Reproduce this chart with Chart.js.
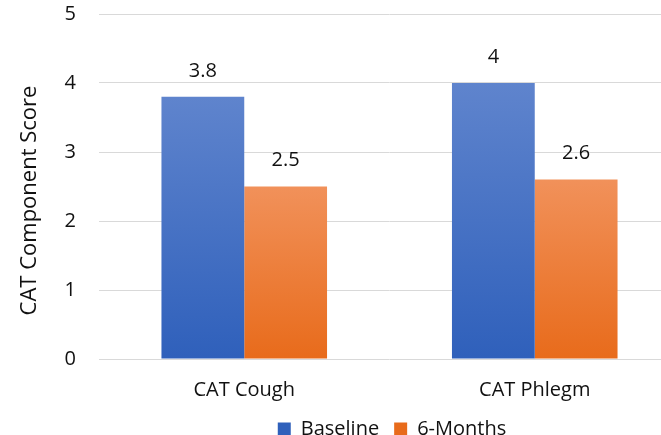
<!DOCTYPE html>
<html>
<head>
<meta charset="utf-8">
<script src="https://cdn.jsdelivr.net/npm/chart.js@4"></script>
<style>
  html, body { margin: 0; padding: 0; background: #fff; overflow: hidden; }
  #wrap { width: 680px; height: 435px; }
</style>
</head>
<body>
<div id="wrap"><canvas id="chart" width="680" height="435"></canvas></div>
<script>
// chart data
var categories = ['CAT Cough', 'CAT Phlegm'];
var baseline = [3.8, 4];
var sixMonths = [2.5, 2.6];
var yTicks = [0, 1, 2, 3, 4, 5];
var yTitle = 'CAT Component Score';

var FONT = '"Open Sans", sans-serif';

// vertical gradient per bar, lighter at the top
function barGradient(top, bottom) {
    return function(ctx) {
        var chart = ctx.chart;
        if (!chart.chartArea || ctx.type !== 'data') return bottom;
        var y = chart.scales.y;
        var y0 = y.getPixelForValue(0);
        var y1 = y.getPixelForValue(ctx.raw);
        var g = chart.ctx.createLinearGradient(0, y1, 0, y0);
        g.addColorStop(0, top);
        g.addColorStop(1, bottom);
        return g;
    };
}

// value labels above each bar
var valueLabels = {
    id: 'valueLabels',
    afterDatasetsDraw: function(chart) {
        var ctx = chart.ctx;
        ctx.save();
        ctx.font = '20px ' + FONT;
        ctx.fillStyle = '#111';
        ctx.textAlign = 'center';
        ctx.textBaseline = 'middle';
        chart.data.datasets.forEach(function(ds, i) {
            chart.getDatasetMeta(i).data.forEach(function(bar, j) {
                ctx.fillText(String(ds.data[j]), bar.x, bar.y - 26);
            });
        });
        ctx.restore();
    }
};

// y axis title, sits a little below the middle of the plot like the original
var axisTitle = {
    id: 'axisTitle',
    afterDraw: function(chart) {
        var ctx = chart.ctx;
        var mid = (chart.chartArea.top + chart.chartArea.bottom) / 2 + 14;
        ctx.save();
        ctx.translate(30, mid);
        ctx.rotate(-Math.PI / 2);
        ctx.font = '22px ' + FONT;
        ctx.fillStyle = '#111';
        ctx.textAlign = 'center';
        ctx.textBaseline = 'middle';
        ctx.fillText(yTitle, 0, 0);
        ctx.restore();
    }
};

// legend centred under the plot area rather than the canvas, nudged up a bit
var shiftLegend = {
    id: 'shiftLegend',
    afterLayout: function(chart) {
        var l = chart.legend;
        var off = 392 - (l.left + l.right) / 2;
        l.left += off;
        l.right += off;
        l.top -= 17;
        l.bottom -= 17;
    }
};

function noEdgePadding(scale) {
    scale.paddingTop = 0;
    scale.paddingBottom = 0;
    scale.paddingLeft = 0;
    scale.paddingRight = 0;
}

new Chart(document.getElementById('chart'), {
    type: 'bar',
    data: {
        labels: categories,
        datasets: [
            {
                label: 'Baseline',
                data: baseline,
                backgroundColor: barGradient('#5f84cd', '#2f60bb'),
                borderWidth: 0
            },
            {
                label: '6-Months',
                data: sixMonths,
                backgroundColor: barGradient('#f1915a', '#e86b1b'),
                borderWidth: 0
            }
        ]
    },
    options: {
        responsive: false,
        animation: false,
        layout: { padding: { top: 14, right: 0, bottom: -31, left: 0 } },
        datasets: {
            bar: { categoryPercentage: 0.57, barPercentage: 1.0 }
        },
        scales: {
            x: {
                afterFit: noEdgePadding,
                grid: { display: false, drawTicks: false },
                border: { display: false },
                ticks: { color: '#111', font: { family: FONT, size: 20 }, padding: 19 }
            },
            y: {
                min: 0,
                max: 5,
                afterBuildTicks: function(scale) {
                    scale.ticks = yTicks.map(function(v) { return { value: v }; });
                },
                afterFit: function(scale) {
                    noEdgePadding(scale);
                    scale.width = 99;
                },
                grid: { color: '#d9d9d9', lineWidth: 1, drawTicks: false },
                border: { display: false },
                ticks: { color: '#111', font: { family: FONT, size: 20 }, padding: 23 }
            }
        },
        plugins: {
            legend: {
                position: 'bottom',
                labels: {
                    color: '#111',
                    font: { family: FONT, size: 20 },
                    boxWidth: 13,
                    boxHeight: 13,
                    padding: 15
                }
            },
            tooltip: { enabled: false }
        }
    },
    plugins: [valueLabels, axisTitle, shiftLegend]
});
</script>
</body>
</html>
